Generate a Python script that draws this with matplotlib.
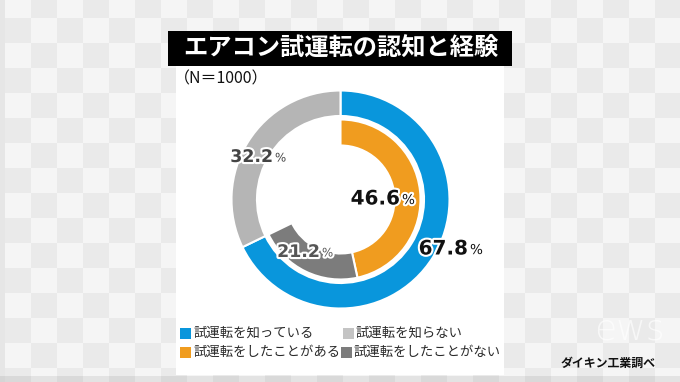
import numpy as np
import matplotlib
matplotlib.use("Agg")
import matplotlib.pyplot as plt
from matplotlib.patches import Rectangle
import matplotlib.patheffects as pe

plt.rcParams['font.family'] = ['Noto Sans CJK JP', 'DejaVu Sans']

# data
outer_labels = ['試運転を知っている', '試運転を知らない']
outer_vals = [67.8, 32.2]
inner_labels = ['試運転をしたことがある', '試運転をしたことがない']
inner_vals = [46.6, 21.2]
title = 'エアコン試運転の認知と経験'
note = '（N＝1000）'
source = 'ダイキン工業調べ'

c_blue = '#0996dc'
c_lgray = '#b5b5b5'
c_orange = '#f09c1f'
c_dgray = '#7c7c7c'

W, H = 680, 382
fig = plt.figure(figsize=(W / 100, H / 100), dpi=100)

# background (pixel coords)
bg = fig.add_axes([0, 0, 1, 1], zorder=0)
bg.set_xlim(0, W)
bg.set_ylim(H, 0)
bg.axis('off')
bg.add_patch(Rectangle((0, 0), W, H, color='#f5f5f5'))
cw, ch = 26, 25
for i in range(-1, W // cw + 2):
    for j in range(-1, H // ch + 2):
        if (i + j) % 2 == 1:
            bg.add_patch(Rectangle((5 + i * cw, -7 + j * ch), cw, ch, color='#eaeaea', lw=0))
bg.add_patch(Rectangle((0, 0), 5, H, color='#e6e6e6', lw=0))
bg.add_patch(Rectangle((0, 376), W, 6, color='black', alpha=0.07, lw=0))
bg.add_patch(Rectangle((176, 50), 328, 325, color='white', lw=0))
bg.text(594, 330, 'ews', fontsize=26, color='white', alpha=0.65, family='DejaVu Sans',
        fontweight='light', va='center', ha='left')

# donut
cx, cy, half = 340.5, 199.5, 120
ax = fig.add_axes([(cx - half) / W, (H - cy - half) / H, 2 * half / W, 2 * half / H], zorder=1)
ax.axis('off')
ax.pie(outer_vals, radius=1.09, colors=[c_blue, c_lgray], startangle=90, counterclock=False,
       wedgeprops=dict(width=0.255, edgecolor='white', linewidth=1.5))
rest = 100 - sum(inner_vals)
wedges, _ = ax.pie(inner_vals + [rest], radius=0.80, colors=[c_orange, c_dgray, 'white'],
                   startangle=90, counterclock=False,
                   wedgeprops=dict(width=0.26, edgecolor='white', linewidth=1.5))
wedges[-1].set_visible(False)
ax.set_xlim(-1.2, 1.2)
ax.set_ylim(-1.2, 1.2)

# overlay texts
top = fig.add_axes([0, 0, 1, 1], zorder=2)
top.set_xlim(0, W)
top.set_ylim(H, 0)
top.axis('off')
top.patch.set_alpha(0)

top.add_patch(Rectangle((168, 31), 344, 35, color='black', lw=0))
top.text(340.5, 48.5, title, color='white', fontsize=17.5, fontweight='bold', ha='center', va='center')
top.text(174, 79, note, color='#111111', fontsize=11.5, ha='left', va='center')

stroke = [pe.withStroke(linewidth=3, foreground='white')]
pct_labels = [
    (f'{inner_vals[0]}', 400, 199, 14.4, '#111111'),
    (f'{outer_vals[0]}', 468, 249, 14.4, '#111111'),
    (f'{outer_vals[1]}', 273, 157, 12.5, '#444444'),
    (f'{inner_vals[1]}', 320, 252, 12.5, '#555555'),
]
for txt, x, y, fs, col in pct_labels:
    top.text(x, y, txt, fontsize=fs, fontweight='bold', color=col, family='DejaVu Sans',
             ha='right', va='center', path_effects=stroke)
    top.text(x + 2, y + 1, '%', fontsize=fs * 0.68, color=col, family='DejaVu Sans',
             ha='left', va='center', path_effects=stroke)

legend_items = [
    (outer_labels[0], c_blue, 180, 333),
    (outer_labels[1], '#c4c4c4', 343, 333),
    (inner_labels[0], c_orange, 180, 352),
    (inner_labels[1], c_dgray, 341, 352),
]
for lab, col, x, y in legend_items:
    top.add_patch(Rectangle((x, y - 5.5), 11, 11, color=col, lw=0))
    top.text(x + 13, y, lab, fontsize=9.6, color='#2a2a2a', ha='left', va='center')

top.text(608, 363, source, fontsize=8.6, fontweight='bold', color='#111111', ha='center', va='center')

fig.savefig('out.png', dpi=100)
